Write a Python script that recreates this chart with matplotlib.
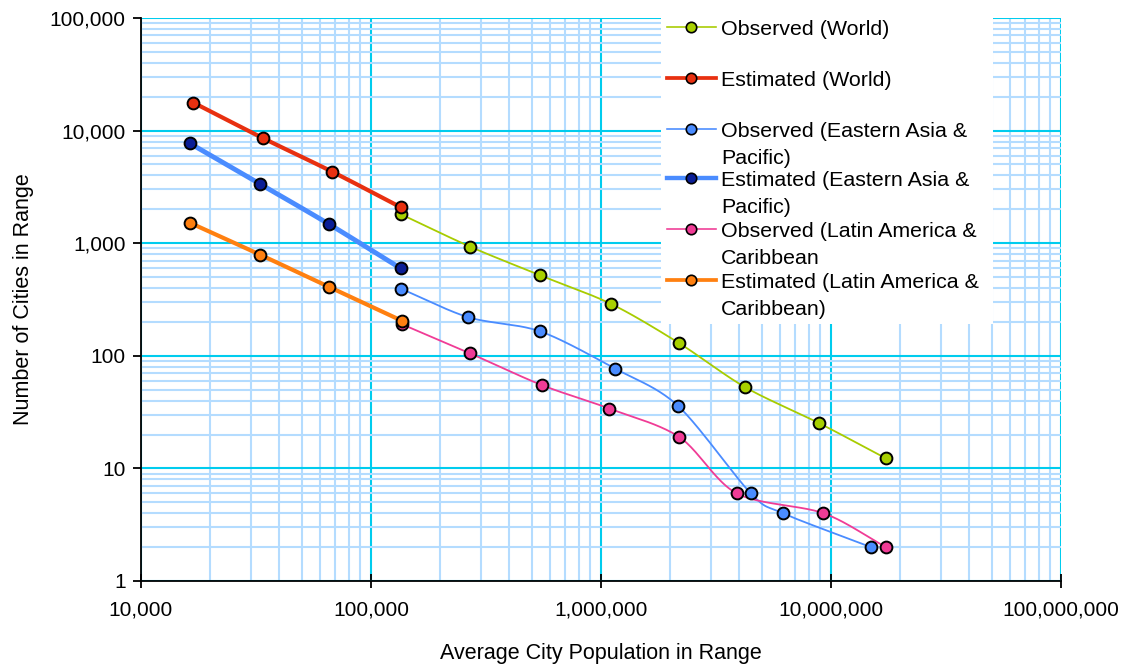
import numpy as np
import matplotlib
matplotlib.use("Agg")
import matplotlib.pyplot as plt
from matplotlib.lines import Line2D
from matplotlib.patches import Rectangle
from matplotlib.ticker import LogLocator, FuncFormatter, NullFormatter

plt.rcParams['font.family'] = ['Liberation Sans', 'DejaVu Sans']

# ---- data ----
est_world_x = [16900, 34000, 68000, 135000]
est_world_y = [17700, 8550, 4300, 2080]

obs_world_x = [135000, 270000, 543000, 1110000, 2180000, 4240000, 8850000, 17300000]
obs_world_y = [1807, 931, 519, 288, 130, 52.5, 25.3, 12.3]

est_ea_x = [16300, 32900, 65900, 134600]
est_ea_y = [7710, 3360, 1470, 598]

obs_ea_x = [135000, 265000, 543000, 1150000, 2160000, 4480000, 6170000, 14900000]
obs_ea_y = [394, 220, 165, 77, 36, 6, 4, 2]

est_lac_x = [16300, 32900, 65900, 136000]
est_lac_y = [1520, 791, 408, 205]

obs_lac_x = [136000, 270000, 552000, 1087000, 2190000, 3890000, 9270000, 17300000]
obs_lac_y = [191, 105, 55, 34, 19, 6, 4, 2]

labels = ["Observed (World)", "Estimated (World)",
          "Observed (Eastern Asia &\nPacific)", "Estimated (Eastern Asia &\nPacific)",
          "Observed (Latin America &\nCaribbean", "Estimated (Latin America &\nCaribbean)"]


def smooth(xs, ys, n=24, tension=0.9):
    """Cardinal-spline smoothing in log space (rendering only)."""
    P = np.column_stack([np.log10(xs), np.log10(ys)])
    if len(P) < 3:
        return xs, ys
    P = np.vstack([P[0] - (P[1] - P[0]), P, P[-1] + (P[-1] - P[-2])])
    out = []
    t = np.linspace(0, 1, n, endpoint=False)[:, None]
    h00 = 2 * t ** 3 - 3 * t ** 2 + 1
    h10 = t ** 3 - 2 * t ** 2 + t
    h01 = -2 * t ** 3 + 3 * t ** 2
    h11 = t ** 3 - t ** 2
    for i in range(1, len(P) - 2):
        p0, p1, p2, p3 = P[i - 1], P[i], P[i + 1], P[i + 2]
        m1 = (p2 - p0) * 0.5 * tension
        m2 = (p3 - p1) * 0.5 * tension
        out.append(h00 * p1 + h10 * m1 + h01 * p2 + h11 * m2)
    out.append(P[-2][None, :])
    out = np.vstack(out)
    return 10 ** out[:, 0], 10 ** out[:, 1]


fig = plt.figure(figsize=(11.23, 6.65), dpi=100)
ax = fig.add_axes([141 / 1123, 1 - 581 / 665, 920 / 1123, 563 / 665])
ax.set_xscale('log')
ax.set_yscale('log')
ax.set_xlim(1e4, 1e8)
ax.set_ylim(1, 1e5)

major_c = '#00ccee'
minor_c = '#b4dcff'
ax.xaxis.set_major_locator(LogLocator(base=10, numticks=20))
ax.xaxis.set_minor_locator(LogLocator(base=10, subs=np.arange(2, 10), numticks=20))
ax.yaxis.set_major_locator(LogLocator(base=10, numticks=20))
ax.yaxis.set_minor_locator(LogLocator(base=10, subs=np.arange(2, 10), numticks=20))
ax.grid(True, which='minor', color=minor_c, lw=1.5, zorder=0)
ax.grid(True, which='major', color=major_c, lw=1.5, zorder=0)
ax.set_axisbelow(True)

fmt = FuncFormatter(lambda v, p: f"{int(round(v)):,}")
ax.xaxis.set_major_formatter(fmt)
ax.yaxis.set_major_formatter(fmt)
ax.xaxis.set_minor_formatter(NullFormatter())
ax.yaxis.set_minor_formatter(NullFormatter())

for s in ['top', 'right']:
    ax.spines[s].set_visible(False)
for s in ['left', 'bottom']:
    ax.spines[s].set_color('black')
    ax.spines[s].set_linewidth(1.3)
ax.tick_params(which='minor', length=0)
ax.tick_params(axis='y', which='major', direction='out', length=6, width=1.3, labelsize=15, pad=5)
ax.tick_params(axis='x', which='major', direction='inout', length=10, width=1.3, labelsize=15, pad=9)

ax.set_xlabel("Average City Population in Range", fontsize=15.5, labelpad=17)
ax.set_ylabel("Number of Cities in Range", fontsize=15.5, labelpad=11)

series = [
    (obs_world_x, obs_world_y, '#a8cc00', 1.3, '#a8d000'),
    (est_world_x, est_world_y, '#e83010', 3.0, '#e83010'),
    (obs_ea_x, obs_ea_y, '#4a8cff', 1.3, '#4a8cff'),
    (est_ea_x, est_ea_y, '#4a8cff', 3.5, '#0a1e96'),
    (obs_lac_x, obs_lac_y, '#f03c96', 1.3, '#f03c96'),
    (est_lac_x, est_lac_y, '#ff8010', 3.0, '#ff8010'),
]
order = [0, 4, 2, 5, 3, 1]
for i in order:
    xs, ys, lc, lw, mc = series[i]
    sx, sy = smooth(np.array(xs, float), np.array(ys, float))
    ax.plot(sx, sy, color=lc, lw=lw, zorder=3 + i * 0.1, solid_capstyle='round')
    ax.plot(xs, ys, ls='none', marker='o', ms=8.5, mfc=mc, mec='black', mew=1.4,
            zorder=4 + i * 0.1)

# legend (manual, matches Excel layout)
def fx(px):
    return (px - 141) / 920
def fy(py):
    return (581 - py) / 563

ax.add_patch(Rectangle((fx(661), fy(324)), fx(993) - fx(661), fy(8) - fy(324),
                       transform=ax.transAxes, facecolor='white', edgecolor='none',
                       zorder=10, clip_on=False))
rows = [27, 78, 129, 178, 229, 280]
for (xs, ys, lc, lw, mc), lab, ry in zip(series, labels, rows):
    ax.add_line(Line2D([fx(667), fx(716)], [fy(ry), fy(ry)], transform=ax.transAxes,
                       color=lc, lw=lw * 0.9, zorder=11, clip_on=False))
    ax.add_line(Line2D([fx(691)], [fy(ry)], transform=ax.transAxes, ls='none',
                       marker='o', ms=7.5, mfc=mc, mec='black', mew=1.2, zorder=12,
                       clip_on=False))
    ax.text(fx(721), fy(ry - 7), lab, transform=ax.transAxes, fontsize=15.4,
            va='top', ha='left', linespacing=1.55, zorder=13)

fig.savefig("out.png", dpi=100)
